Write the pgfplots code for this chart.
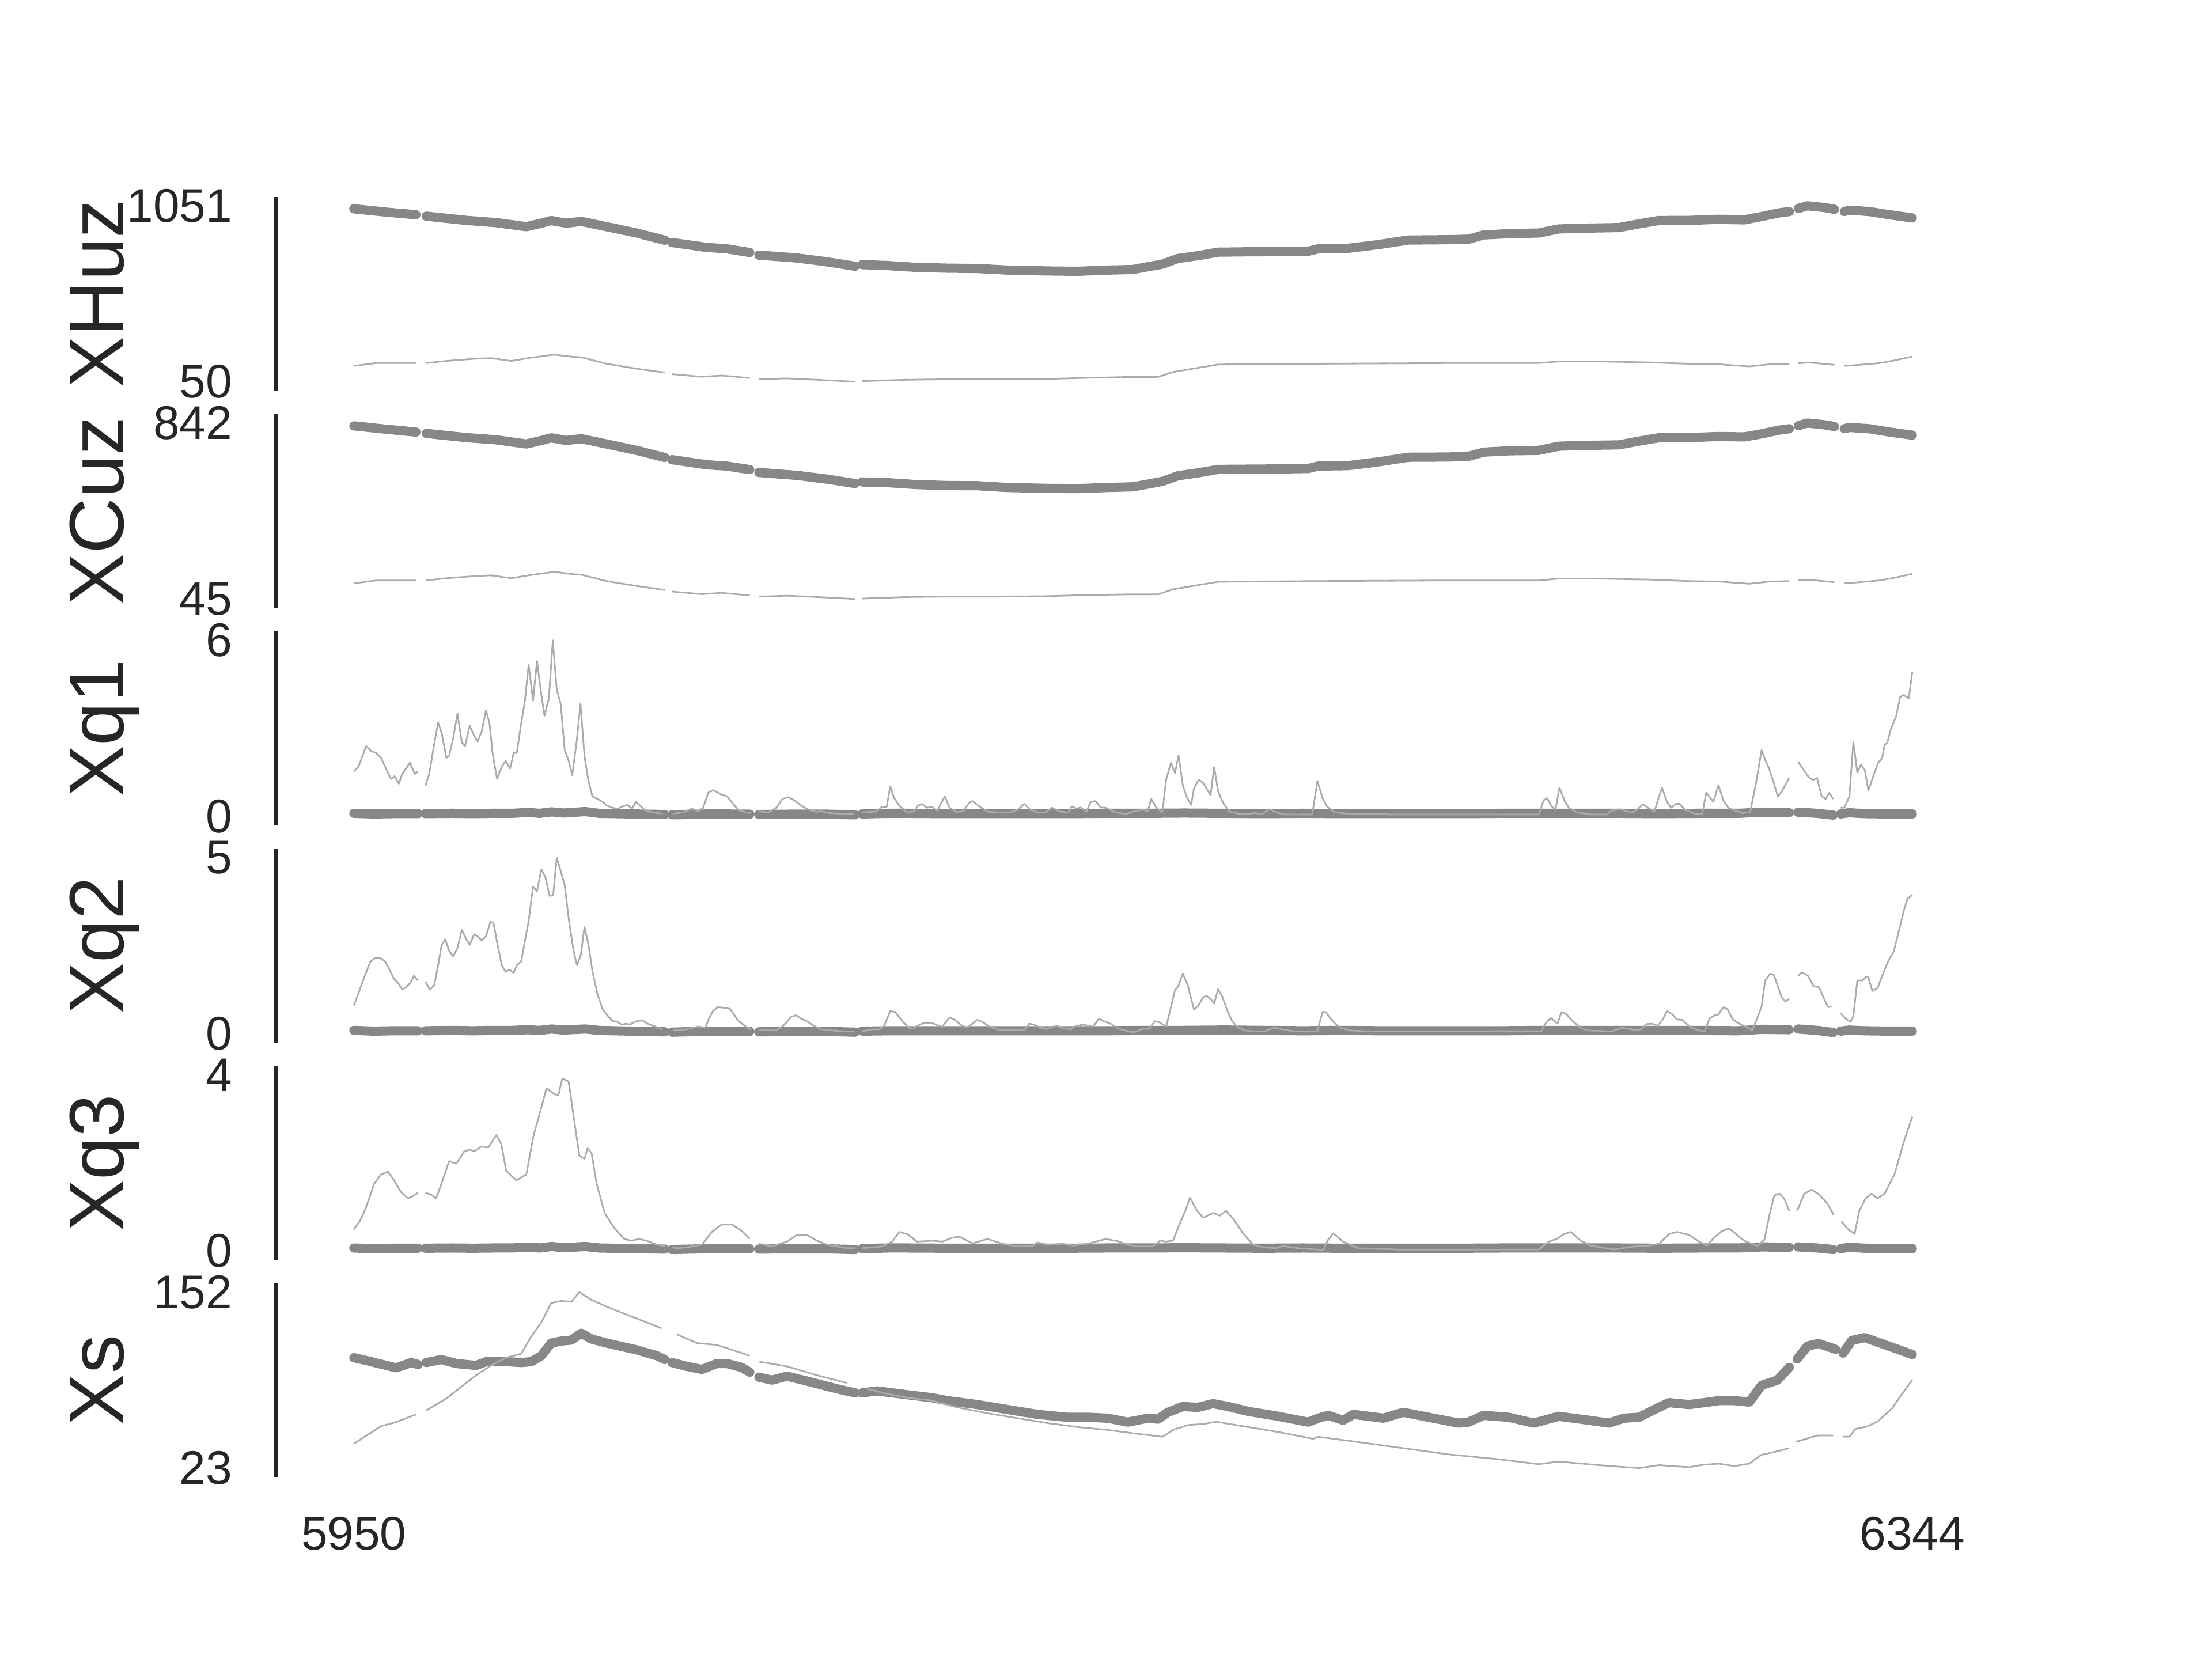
\documentclass[border=0pt]{standalone}
\usepackage{fontspec}
\setmainfont{Liberation Sans}
\usepackage{pgfplots}
\pgfplotsset{compat=1.18}
\definecolor{thickc}{HTML}{878787}
\definecolor{thinc}{HTML}{ABABAB}
\definecolor{txt}{HTML}{262626}
\pgfplotsset{
 panel/.style={
  scale only axis, width=297.6pt, height=33.6pt,
  xmin=5930.3, xmax=6363.7,
  axis y line*=left, axis x line*=bottom,
  x axis line style={draw=none},
  y axis line style={draw=txt, line width=0.8pt, line cap=butt},
  major tick length=0pt,
  xtick=\empty,
  yticklabel style={anchor=east, inner sep=0pt, xshift=-7.4pt, font=\fontsize{8.2}{9}\selectfont, text=txt},
  xticklabel style={anchor=center, inner sep=0pt, yshift=-9.8pt, font=\fontsize{8.2}{9}\selectfont, text=txt},
  unbounded coords=jump,
  clip=false,
  anchor=south west,
 },
 thickline/.style={draw=thickc, line width=1.6pt, line cap=round, line join=round, mark=none},
 thinline/.style={draw=thinc, line width=0.28pt, line join=round, mark=none},
}
\begin{document}
\begin{tikzpicture}
\useasboundingbox (0,0) rectangle (384pt,288pt);

% ---------------- XHuz
\begin{axis}[panel, at={(47.9pt,220.2pt)}, ymin=-0.05, ymax=1101.05,
  ytick={50,1051}, yticklabels={\mbox{50},\mbox{1051}}]
\addplot[thickline] coordinates {(5950.0,1034)(5958.1,1015)(5965.7,1000)(5967.2,nan)(5968.3,992)(5978.4,968)(5986.0,955)(5993.6,932)(5997.4,952)(5999.9,967)(6003.7,952)(6007.5,962)(6013.9,932)(6021.5,896)(6028.6,855)(6029.5,nan)(6030.4,842)(6039.2,814)(6044.3,806)(6050.1,785)(6051.2,nan)(6052.4,770)(6062.0,754)(6069.6,732)(6076.7,707)(6077.5,nan)(6078.5,716)(6084.8,711)(6092.4,700)(6100.0,696)(6107.6,694)(6115.2,685)(6125.4,680)(6133.0,678)(6140.6,685)(6146.9,688)(6150.7,704)(6154.5,719)(6158.3,751)(6163.4,767)(6168.5,787)(6176.1,789)(6183.7,790)(6191.3,792)(6193.8,806)(6201.4,809)(6209.0,830)(6216.6,856)(6226.7,858)(6231.8,861)(6235.6,885)(6241.9,892)(6249.5,896)(6254.6,919)(6262.2,924)(6269.8,927)(6274.9,948)(6279.9,967)(6287.6,968)(6295.2,974)(6301.5,971)(6305.3,987)(6310.4,1011)(6312.9,1018)(6314.0,nan)(6315.2,1036)(6317.5,1051)(6321.8,1041)(6324.3,1031)(6325.5,nan)(6326.8,1018)(6328.1,1026)(6333.2,1018)(6338.2,1000)(6344.0,982)};
\addplot[thinline] coordinates {(5950.0,140)(5955.6,156)(5965.7,156)(5967.2,nan)(5968.3,156)(5973.3,168)(5980.9,181)(5984.7,184)(5989.8,168)(5994.9,187)(6000.7,204)(6005.0,192)(6007.5,189)(6013.9,152)(6021.5,124)(6028.6,102)(6029.5,nan)(6030.4,93)(6038.0,78)(6043.0,85)(6050.1,71)(6051.2,nan)(6052.4,64)(6059.5,69)(6067.1,61)(6076.7,50)(6077.5,nan)(6078.5,53)(6084.8,58)(6089.9,61)(6100.0,64)(6112.7,64)(6125.4,66)(6135.5,72)(6145.7,77)(6153.3,77)(6157.1,105)(6162.1,124)(6168.5,148)(6191.3,152)(6226.7,156)(6249.5,156)(6254.6,165)(6264.7,165)(6277.4,160)(6287.6,152)(6295.2,149)(6302.8,137)(6307.8,149)(6312.9,152)(6314.0,nan)(6315.2,155)(6318.0,159)(6324.3,146)(6325.5,nan)(6326.8,140)(6330.6,146)(6335.7,156)(6339.5,171)(6344.0,193)};
\end{axis}

% ---------------- XCuz
\begin{axis}[panel, at={(47.9pt,182.48pt)}, ymin=5.15, ymax=881.85,
  ytick={45,842}, yticklabels={\mbox{45},\mbox{842}}]
\addplot[thickline] coordinates {(5950.0,829)(5958.1,814)(5965.7,801)(5967.2,nan)(5968.3,795)(5978.4,776)(5986.0,766)(5993.6,747)(5997.4,763)(5999.9,775)(6003.7,763)(6007.5,771)(6013.9,747)(6021.5,718)(6028.6,686)(6029.5,nan)(6030.4,676)(6039.2,653)(6044.3,647)(6050.1,631)(6051.2,nan)(6052.4,618)(6062.0,605)(6069.6,588)(6076.7,568)(6077.5,nan)(6078.5,575)(6084.8,572)(6092.4,563)(6100.0,559)(6107.6,558)(6115.2,550)(6125.4,546)(6133.0,545)(6140.6,550)(6146.9,553)(6150.7,565)(6154.5,578)(6158.3,603)(6163.4,616)(6168.5,632)(6176.1,633)(6183.7,634)(6191.3,636)(6193.8,647)(6201.4,649)(6209.0,666)(6216.6,687)(6226.7,688)(6231.8,691)(6235.6,710)(6241.9,716)(6249.5,718)(6254.6,737)(6262.2,741)(6269.8,743)(6274.9,760)(6279.9,775)(6287.6,776)(6295.2,781)(6301.5,779)(6305.3,791)(6310.4,810)(6312.9,816)(6314.0,nan)(6315.2,830)(6317.5,842)(6321.8,834)(6324.3,826)(6325.5,nan)(6326.8,816)(6328.1,822)(6333.2,816)(6338.2,801)(6344.0,787)};
\addplot[thinline] coordinates {(5950.0,116)(5955.6,129)(5965.7,129)(5967.2,nan)(5968.3,129)(5973.3,139)(5980.9,149)(5984.7,152)(5989.8,139)(5994.9,154)(6000.7,168)(6005.0,158)(6007.5,155)(6013.9,126)(6021.5,104)(6028.6,86)(6029.5,nan)(6030.4,79)(6038.0,67)(6043.0,73)(6050.1,61)(6051.2,nan)(6052.4,56)(6059.5,60)(6067.1,54)(6076.7,45)(6077.5,nan)(6078.5,47)(6084.8,51)(6089.9,54)(6100.0,56)(6112.7,56)(6125.4,58)(6135.5,63)(6145.7,66)(6153.3,66)(6157.1,89)(6162.1,104)(6168.5,123)(6191.3,126)(6226.7,129)(6249.5,129)(6254.6,137)(6264.7,137)(6277.4,133)(6287.6,126)(6295.2,124)(6302.8,114)(6307.8,124)(6312.9,126)(6314.0,nan)(6315.2,129)(6318.0,132)(6324.3,121)(6325.5,nan)(6326.8,116)(6330.6,121)(6335.7,129)(6339.5,141)(6344.0,159)};
\end{axis}

% ---------------- Xq1
\begin{axis}[panel, at={(47.9pt,144.76pt)}, ymin=-0.3, ymax=6.3,
  ytick={0,6}, yticklabels={\mbox{0},\mbox{6}}]
\addplot[thickline] coordinates {(5950,0.10)(5955,0.08)(5960,0.09)(5966.2,0.09)(5967.2,nan)(5968.1,0.09)(5975,0.10)(5980,0.09)(5985,0.10)(5990,0.10)(5994,0.13)(5997,0.10)(6000,0.15)(6003,0.11)(6008.5,0.16)(6012,0.10)(6020,0.08)(6028.6,0.06)(6029.5,nan)(6030.4,0.05)(6040,0.08)(6050.1,0.07)(6051.2,nan)(6052.4,0.06)(6060,0.07)(6070,0.07)(6076.7,0.05)(6077.5,nan)(6078.5,0.08)(6085,0.10)(6090,0.10)(6100,0.09)(6110,0.09)(6120,0.09)(6130,0.09)(6140,0.10)(6150,0.10)(6160,0.11)(6170,0.10)(6180,0.09)(6190,0.10)(6200,0.09)(6210,0.09)(6220,0.09)(6230,0.09)(6240,0.10)(6250,0.10)(6260,0.10)(6270,0.10)(6280,0.09)(6290,0.10)(6300,0.10)(6306,0.14)(6312.9,0.12)(6314.0,nan)(6315.1,0.14)(6320,0.10)(6324,0.04)(6325.2,nan)(6325.9,0.08)(6328,0.12)(6332,0.09)(6338,0.08)(6344,0.08)};
\addplot[thinline] coordinates {(5950.0,1.53)(5951.2,1.70)(5953.1,2.39)(5954.4,2.22)(5955.6,2.16)(5956.9,1.99)(5958.2,1.60)(5959.4,1.27)(5960.3,1.37)(5961.4,1.11)(5962.2,1.44)(5964.2,1.83)(5965.4,1.44)(5966.2,1.53)(5967.2,nan)(5968.1,1.04)(5969.1,1.47)(5970.3,2.45)(5971.3,3.20)(5972.2,2.84)(5973.4,1.99)(5974.1,2.06)(5975.1,2.65)(5976.2,3.50)(5977.3,2.52)(5978.1,2.39)(5979.3,3.09)(5980.4,2.75)(5981.3,2.55)(5982.3,2.88)(5983.4,3.62)(5984.3,3.17)(5985.1,2.12)(5986.2,1.27)(5987.4,1.70)(5988.4,1.89)(5989.5,1.63)(5990.4,2.16)(5991.2,2.16)(5992.3,3.17)(5993.2,3.89)(5994.2,5.17)(5995.3,3.94)(5996.3,5.30)(5997.2,4.35)(5998.2,3.43)(5999.3,4.02)(6000.3,6.00)(6001.3,4.32)(6002.3,3.83)(6003.3,2.26)(6004.4,1.86)(6005.2,1.40)(6006.3,2.52)(6007.3,3.84)(6008.3,2.06)(6009.3,1.21)(6010.3,0.68)(6011.6,0.59)(6012.9,0.49)(6014.1,0.36)(6015.4,0.29)(6016.7,0.26)(6017.7,0.32)(6019.2,0.39)(6020.3,0.26)(6021.3,0.49)(6022.4,0.36)(6023.7,0.19)(6025.6,0.13)(6028.1,0.09)(6029.4,nan)(6030.7,0.09)(6033.2,0.13)(6035.5,0.26)(6037.0,0.16)(6038.3,0.29)(6039.6,0.81)(6040.9,0.89)(6042.8,0.75)(6044.4,0.68)(6045.7,0.45)(6047.2,0.22)(6049.1,0.13)(6050.4,0.11)(6051.2,nan)(6052.3,0.17)(6054.8,0.13)(6056.8,0.29)(6058.4,0.60)(6059.9,0.65)(6061.6,0.52)(6063.1,0.36)(6065.0,0.22)(6066.9,0.15)(6068.2,0.17)(6070.1,0.11)(6072.7,0.09)(6076.5,0.08)(6077.5,nan)(6078.4,0.13)(6082.2,0.16)(6083.5,0.32)(6084.7,0.32)(6085.6,1.02)(6086.6,0.62)(6087.9,0.36)(6089.8,0.13)(6091.5,0.16)(6092.6,0.36)(6093.6,0.42)(6094.9,0.29)(6096.2,0.32)(6097.5,0.19)(6099.4,0.68)(6100.6,0.29)(6102.5,0.13)(6104.2,0.19)(6105.5,0.45)(6106.4,0.52)(6108.3,0.32)(6110.2,0.16)(6112.7,0.13)(6115.9,0.13)(6117.8,0.22)(6119.5,0.42)(6121.0,0.22)(6122.9,0.13)(6124.8,0.13)(6126.5,0.29)(6128.6,0.16)(6130.7,0.13)(6131.5,0.34)(6132.7,0.26)(6133.7,0.30)(6135.2,0.16)(6136.3,0.49)(6137.5,0.52)(6138.8,0.30)(6140.1,0.29)(6142.6,0.13)(6145.2,0.08)(6147.8,0.19)(6149.7,0.22)(6150.7,0.16)(6151.6,0.59)(6152.9,0.29)(6154.4,0.13)(6155.4,1.27)(6156.6,1.83)(6157.6,1.47)(6158.5,2.08)(6159.6,1.04)(6160.7,0.62)(6161.7,0.39)(6162.4,0.95)(6163.6,1.25)(6164.7,1.14)(6166.6,0.72)(6167.5,1.68)(6168.5,0.85)(6169.8,0.45)(6171.3,0.16)(6173.9,0.08)(6176.4,0.07)(6177.7,0.11)(6179.6,0.08)(6181.5,0.24)(6183.2,0.13)(6185.3,0.06)(6192.3,0.06)(6193.6,1.21)(6194.9,0.62)(6196.1,0.32)(6198.1,0.13)(6201.9,0.08)(6207.0,0.09)(6212.0,0.06)(6247.7,0.06)(6249.6,0.06)(6250.8,0.55)(6251.7,0.62)(6252.7,0.36)(6253.8,0.22)(6254.8,0.98)(6256.1,0.52)(6257.2,0.29)(6259.1,0.13)(6262.9,0.06)(6266.7,0.06)(6268.0,0.19)(6269.9,0.24)(6271.2,0.19)(6273.1,0.13)(6274.4,0.22)(6275.9,0.41)(6277.2,0.29)(6278.8,0.16)(6280.7,0.98)(6282.0,0.49)(6283.0,0.29)(6284.3,0.42)(6285.2,0.43)(6286.5,0.22)(6289.0,0.09)(6290.9,0.07)(6291.9,0.81)(6293.7,0.49)(6295.0,1.06)(6296.2,0.55)(6297.5,0.29)(6299.2,0.19)(6301.1,0.11)(6303.0,0.13)(6304.6,1.21)(6305.9,2.26)(6306.8,1.93)(6307.8,1.63)(6309.1,1.08)(6310.0,0.68)(6311.0,0.85)(6312.9,1.31)(6314.0,nan)(6315.1,1.86)(6316.6,1.57)(6317.9,1.32)(6318.9,1.24)(6319.9,1.31)(6321.1,0.68)(6322.1,0.59)(6323.0,0.80)(6324.0,0.59)(6325.2,nan)(6325.9,0.29)(6326.8,0.29)(6328.1,0.67)(6329.1,2.54)(6330.1,1.49)(6331.0,1.76)(6332.0,1.57)(6332.9,0.88)(6334.2,1.40)(6335.4,1.83)(6336.4,1.99)(6337.0,2.44)(6337.7,2.52)(6338.6,2.98)(6339.9,3.40)(6340.9,4.06)(6341.8,4.14)(6343.1,4.02)(6344.0,4.91)};
\end{axis}

% ---------------- Xq2
\begin{axis}[panel, at={(47.9pt,107.04pt)}, ymin=-0.25, ymax=5.25,
  ytick={0,5}, yticklabels={\mbox{0},\mbox{5}}]
\addplot[thickline] coordinates {(5950,0.09)(5955,0.07)(5960,0.08)(5966.2,0.08)(5967.2,nan)(5968.1,0.08)(5975,0.09)(5980,0.08)(5985,0.09)(5990,0.09)(5994,0.11)(5997,0.09)(6000,0.13)(6003,0.10)(6008.5,0.13)(6012,0.09)(6020,0.07)(6028.6,0.05)(6029.5,nan)(6030.4,0.04)(6040,0.07)(6050.1,0.06)(6051.2,nan)(6052.4,0.05)(6060,0.06)(6070,0.06)(6076.7,0.04)(6077.5,nan)(6078.5,0.07)(6085,0.08)(6090,0.08)(6100,0.08)(6110,0.08)(6120,0.08)(6130,0.08)(6140,0.08)(6150,0.09)(6160,0.09)(6170,0.10)(6180,0.09)(6190,0.08)(6200,0.09)(6210,0.08)(6220,0.08)(6230,0.08)(6240,0.08)(6250,0.09)(6260,0.09)(6270,0.09)(6280,0.09)(6290,0.09)(6300,0.08)(6306,0.12)(6312.9,0.11)(6314.0,nan)(6315.1,0.13)(6320,0.09)(6324,0.03)(6325.2,nan)(6325.9,0.07)(6328,0.10)(6332,0.08)(6338,0.07)(6344,0.07)};
\addplot[thinline] coordinates {(5950.0,0.80)(5951.2,1.15)(5952.5,1.56)(5954.1,2.03)(5955.4,2.15)(5956.6,2.15)(5957.9,2.05)(5959.2,1.78)(5960.1,1.56)(5961.1,1.45)(5962.2,1.26)(5963.3,1.32)(5964.3,1.45)(5965.2,1.64)(5966.2,1.51)(5967.2,nan)(5968.1,1.48)(5969.2,1.24)(5970.3,1.37)(5971.3,1.94)(5972.2,2.52)(5973.1,2.68)(5974.1,2.35)(5975.1,2.19)(5976.2,2.43)(5977.3,2.95)(5978.3,2.71)(5979.3,2.52)(5980.4,2.82)(5981.3,2.76)(5982.3,2.65)(5983.4,2.76)(5984.5,3.17)(5985.3,3.15)(5986.2,2.60)(5987.4,1.94)(5988.4,1.75)(5989.3,1.82)(5990.4,1.73)(5991.2,1.94)(5992.3,2.05)(5993.2,2.60)(5994.2,3.20)(5995.3,4.18)(5996.3,4.04)(5997.4,4.67)(5998.4,4.45)(5999.5,3.91)(6000.4,3.94)(6001.3,5.00)(6002.3,4.62)(6003.3,4.21)(6004.4,3.20)(6005.5,2.38)(6006.4,1.94)(6007.4,2.24)(6008.3,3.03)(6009.3,2.54)(6010.3,1.78)(6011.6,1.12)(6012.9,0.69)(6014.1,0.52)(6015.4,0.36)(6016.7,0.33)(6017.7,0.25)(6018.7,0.28)(6019.9,0.26)(6020.9,0.33)(6021.8,0.36)(6023.0,0.37)(6024.3,0.28)(6026.2,0.20)(6027.9,0.12)(6029.4,nan)(6030.7,0.09)(6033.2,0.10)(6035.8,0.17)(6037.0,0.20)(6038.9,0.17)(6039.8,0.44)(6040.9,0.66)(6042.1,0.75)(6044.0,0.73)(6045.1,0.70)(6045.9,0.58)(6047.2,0.36)(6049.1,0.20)(6050.4,0.12)(6051.2,nan)(6052.3,0.12)(6054.8,0.09)(6056.8,0.09)(6058.4,0.21)(6059.3,0.31)(6060.6,0.48)(6061.8,0.52)(6063.1,0.42)(6064.4,0.36)(6066.3,0.22)(6068.2,0.12)(6070.7,0.09)(6073.9,0.06)(6076.5,0.06)(6077.5,nan)(6078.4,0.06)(6080.9,0.12)(6082.8,0.12)(6084.1,0.22)(6085.6,0.64)(6086.9,0.61)(6088.6,0.36)(6090.2,0.17)(6091.5,0.14)(6092.4,0.22)(6094.3,0.31)(6096.2,0.30)(6097.5,0.24)(6098.7,0.19)(6100.6,0.46)(6101.9,0.39)(6103.8,0.22)(6105.1,0.17)(6106.4,0.28)(6107.6,0.39)(6108.9,0.33)(6110.8,0.19)(6113.4,0.10)(6115.9,0.10)(6118.4,0.09)(6119.7,0.12)(6120.7,0.28)(6121.8,0.26)(6123.5,0.17)(6125.4,0.13)(6126.7,0.20)(6128.0,0.21)(6129.3,0.15)(6131.2,0.12)(6132.4,0.21)(6133.7,0.24)(6134.7,0.25)(6135.6,0.22)(6136.9,0.20)(6138.4,0.42)(6139.4,0.36)(6141.3,0.28)(6143.3,0.14)(6145.9,0.06)(6147.2,0.04)(6148.4,0.09)(6149.7,0.14)(6151.0,0.13)(6152.5,0.35)(6153.5,0.33)(6155.4,0.20)(6157.6,1.24)(6158.4,1.34)(6159.6,1.71)(6160.9,1.34)(6162.4,0.68)(6163.5,0.79)(6164.7,1.03)(6165.6,1.07)(6166.6,0.99)(6167.5,0.85)(6168.5,1.26)(6169.6,1.04)(6170.7,0.69)(6172.0,0.36)(6173.2,0.20)(6175.2,0.09)(6177.7,0.06)(6180.2,0.06)(6182.8,0.17)(6184.7,0.12)(6187.9,0.06)(6193.6,0.06)(6194.9,0.62)(6195.8,0.61)(6196.8,0.44)(6198.1,0.28)(6199.3,0.17)(6201.9,0.09)(6207.0,0.06)(6250.2,0.07)(6251.5,0.33)(6252.7,0.44)(6254.3,0.28)(6255.3,0.61)(6256.6,0.55)(6257.8,0.39)(6259.7,0.20)(6261.7,0.09)(6268.0,0.06)(6270.6,0.17)(6272.5,0.13)(6275.0,0.09)(6276.9,0.27)(6278.2,0.28)(6279.7,0.22)(6281.0,0.42)(6282.0,0.64)(6283.3,0.55)(6284.5,0.40)(6285.8,0.39)(6287.7,0.20)(6289.6,0.10)(6291.5,0.06)(6292.8,0.44)(6294.1,0.52)(6295.0,0.55)(6296.2,0.75)(6297.3,0.69)(6298.5,0.42)(6299.8,0.31)(6301.7,0.20)(6303.6,0.10)(6304.9,0.47)(6305.9,0.77)(6306.8,1.51)(6308.1,1.70)(6309.0,1.67)(6310.0,1.34)(6311.0,1.02)(6311.9,0.91)(6312.9,0.99)(6314.0,nan)(6315.1,1.64)(6316.1,1.74)(6317.6,1.64)(6319.1,1.34)(6320.4,1.32)(6321.7,0.99)(6322.7,0.75)(6323.7,0.77)(6325.0,nan)(6325.9,0.58)(6327.2,0.42)(6328.4,0.33)(6329.1,0.50)(6330.1,1.51)(6331.4,1.51)(6332.3,1.62)(6332.9,1.59)(6333.9,1.21)(6335.2,1.29)(6336.7,1.73)(6338.0,2.08)(6339.3,2.33)(6340.5,2.87)(6342.0,3.55)(6342.8,3.83)(6344.0,3.94)};
\end{axis}

% ---------------- Xq3
\begin{axis}[panel, at={(47.9pt,69.32pt)}, ymin=-0.2, ymax=4.2,
  ytick={0,4}, yticklabels={\mbox{0},\mbox{4}}]
\addplot[thickline] coordinates {(5950,0.065)(5955,0.05)(5960,0.06)(5966.2,0.06)(5967.2,nan)(5968.1,0.06)(5975,0.065)(5980,0.06)(5985,0.065)(5990,0.065)(5994,0.085)(5997,0.065)(6000,0.10)(6003,0.07)(6008.5,0.10)(6012,0.065)(6020,0.05)(6028.6,0.04)(6029.5,nan)(6030.4,0.03)(6040,0.05)(6050.1,0.045)(6051.2,nan)(6052.4,0.04)(6060,0.045)(6070,0.045)(6076.7,0.03)(6077.5,nan)(6078.5,0.05)(6085,0.065)(6090,0.065)(6100,0.06)(6110,0.06)(6120,0.06)(6130,0.06)(6140,0.065)(6150,0.065)(6160,0.07)(6170,0.065)(6180,0.06)(6190,0.065)(6200,0.06)(6210,0.06)(6220,0.06)(6230,0.06)(6240,0.065)(6250,0.065)(6260,0.065)(6270,0.065)(6280,0.06)(6290,0.065)(6300,0.065)(6306,0.09)(6312.9,0.08)(6314.0,nan)(6315.1,0.09)(6320,0.065)(6324,0.03)(6325.2,nan)(6325.9,0.05)(6328,0.08)(6332,0.06)(6338,0.05)(6344,0.05)};
\addplot[thinline] coordinates {(5950.0,0.49)(5951.5,0.67)(5953.1,0.99)(5955.1,1.52)(5956.9,1.74)(5958.6,1.80)(5960.2,1.60)(5961.9,1.34)(5963.7,1.19)(5965.2,1.26)(5966.2,1.32)(5967.2,nan)(5968.1,1.32)(5969.5,1.28)(5970.8,1.19)(5972.1,1.52)(5974.1,2.04)(5975.9,1.98)(5977.9,2.26)(5979.4,2.30)(5980.4,2.26)(5982.2,2.37)(5984.0,2.35)(5986.0,2.63)(5987.3,2.43)(5988.5,1.82)(5991.1,1.60)(5993.6,1.74)(5995.4,2.61)(5997.4,3.26)(5998.7,3.70)(6000.5,3.57)(6001.7,3.53)(6002.7,3.92)(6004.3,3.85)(6005.8,2.91)(6007.0,2.17)(6008.3,2.09)(6009.1,2.33)(6010.1,2.22)(6011.4,1.52)(6013.4,0.86)(6015.9,0.51)(6018.4,0.27)(6020.2,0.23)(6022.0,0.27)(6024.0,0.23)(6026.6,0.14)(6028.6,0.11)(6029.5,nan)(6030.4,0.08)(6031.6,0.06)(6034.2,0.08)(6038.0,0.14)(6040.5,0.43)(6043.0,0.60)(6045.6,0.60)(6048.1,0.45)(6050.1,0.27)(6051.2,nan)(6052.4,0.16)(6055.7,0.10)(6059.5,0.21)(6062.0,0.36)(6064.6,0.36)(6067.1,0.23)(6069.6,0.14)(6074.7,0.06)(6076.7,0.06)(6077.5,nan)(6078.5,0.06)(6079.8,0.07)(6083.6,0.10)(6086.1,0.21)(6087.9,0.43)(6089.9,0.38)(6092.4,0.21)(6096.2,0.23)(6098.8,0.21)(6101.3,0.30)(6103.1,0.32)(6106.4,0.17)(6110.2,0.27)(6114.0,0.16)(6117.8,0.10)(6121.6,0.11)(6122.8,0.19)(6125.4,0.14)(6129.2,0.16)(6131.7,0.12)(6135.5,0.16)(6140.1,0.27)(6143.1,0.22)(6145.7,0.14)(6148.2,0.10)(6152.0,0.10)(6153.8,0.23)(6155.3,0.21)(6157.1,0.23)(6158.3,0.51)(6160.3,0.93)(6161.4,1.21)(6162.9,0.95)(6164.7,0.75)(6167.2,0.86)(6169.0,0.80)(6170.5,0.91)(6172.3,0.73)(6174.8,0.40)(6177.3,0.14)(6179.9,0.08)(6183.2,0.06)(6184.9,0.11)(6188.7,0.06)(6195.1,0.02)(6196.3,0.25)(6197.6,0.40)(6200.1,0.21)(6203.9,0.06)(6214.1,0.03)(6249.5,0.03)(6252.1,0.21)(6254.1,0.27)(6255.9,0.38)(6257.7,0.43)(6260.2,0.23)(6262.7,0.12)(6268.5,0.03)(6273.6,0.10)(6277.4,0.12)(6280.0,0.16)(6282.5,0.38)(6284.5,0.43)(6287.6,0.36)(6290.1,0.21)(6292.1,0.12)(6293.9,0.30)(6295.9,0.45)(6297.7,0.51)(6299.7,0.36)(6301.5,0.23)(6304.8,0.11)(6306.6,0.25)(6307.8,0.78)(6309.1,1.26)(6310.4,1.30)(6311.6,1.19)(6312.9,0.91)(6314.0,nan)(6314.9,0.91)(6316.7,1.30)(6318.5,1.39)(6320.5,1.28)(6322.5,1.08)(6324.1,0.82)(6325.2,nan)(6326.1,0.67)(6327.6,0.51)(6329.4,0.38)(6330.6,0.91)(6332.2,1.19)(6333.7,1.30)(6335.2,1.19)(6337.0,1.30)(6339.5,1.74)(6342.0,2.52)(6344.0,3.05)};
\end{axis}

% ---------------- Xs
\begin{axis}[panel, at={(47.9pt,31.6pt)}, ymin=16.55, ymax=158.45,
  ytick={23,152}, yticklabels={\mbox{23},\mbox{152}},
  xtick={5950,6344}, xticklabels={\mbox{5950},\mbox{6344}}]
\addplot[thickline] coordinates {(5950.0,104.0)(5954.3,101.1)(5960.7,96.5)(5964.5,100.4)(5966.2,99.0)(5967.3,nan)(5968.3,100.4)(5972.1,102.6)(5975.9,99.7)(5980.9,98.3)(5983.5,101.1)(5988.5,101.1)(5992.3,100.4)(5994.9,101.1)(5997.4,105.4)(5999.9,114.7)(6002.5,116.2)(6005.0,116.9)(6007.5,121.9)(6010.1,117.6)(6013.9,114.7)(6021.5,109.7)(6026.6,105.4)(6028.6,102.6)(6029.5,nan)(6030.4,100.4)(6034.2,97.6)(6038.0,95.4)(6041.8,99.7)(6044.3,99.7)(6048.1,96.8)(6050.1,93.3)(6051.2,nan)(6052.4,89.7)(6055.7,87.5)(6059.5,90.4)(6064.6,86.8)(6072.2,81.1)(6076.7,78.2)(6077.5,nan)(6078.5,78.2)(6082.3,79.6)(6086.1,78.2)(6089.9,76.8)(6096.2,74.6)(6100.0,72.5)(6107.6,69.6)(6115.2,66.0)(6122.8,62.4)(6130.4,60.3)(6135.5,60.3)(6140.6,59.6)(6145.7,56.7)(6150.7,59.6)(6153.3,58.9)(6155.8,63.9)(6159.6,68.2)(6163.4,67.5)(6167.2,70.3)(6171.0,68.2)(6176.1,64.6)(6183.7,61.0)(6191.3,56.7)(6193.8,59.6)(6196.3,61.7)(6200.1,58.1)(6202.7,62.4)(6206.5,61.0)(6210.3,59.6)(6215.3,63.9)(6221.7,60.3)(6229.3,56.0)(6231.8,56.7)(6235.6,61.7)(6241.9,60.3)(6248.3,56.0)(6254.6,61.0)(6262.2,58.1)(6267.3,56.0)(6271.1,59.6)(6274.9,60.3)(6279.9,67.5)(6282.5,71.0)(6287.6,69.6)(6291.4,71.0)(6295.2,72.5)(6299.0,72.5)(6302.8,71.4)(6305.9,83.7)(6309.9,87.5)(6312.9,96.9)(6314.0,nan)(6314.9,103.0)(6317.5,112.5)(6320.3,114.4)(6324.6,110.1)(6325.5,nan)(6326.5,107.3)(6328.7,116.6)(6332.0,118.7)(6338.0,112.5)(6344.0,106.3)};
\addplot[thinline] coordinates {(5950.0,40.9)(5953.1,46.7)(5956.9,53.8)(5960.7,56.7)(5965.7,62.4)(5967.2,nan)(5968.3,65.3)(5973.3,73.9)(5977.1,82.5)(5980.9,91.1)(5984.7,98.3)(5988.5,104.0)(5992.3,106.9)(5994.9,119.8)(5997.4,129.8)(5999.9,144.1)(6002.5,145.6)(6005.0,144.9)(6007.0,152.0)(6010.1,146.3)(6015.2,139.8)(6021.5,132.7)(6027.8,125.5)(6029.5,nan)(6031.6,121.2)(6036.7,114.7)(6041.8,113.3)(6045.6,109.7)(6050.1,105.4)(6051.2,nan)(6052.4,101.1)(6059.5,97.6)(6067.1,91.1)(6074.7,85.4)(6077.5,nan)(6079.8,81.1)(6084.8,77.5)(6089.9,74.6)(6096.2,72.5)(6102.6,67.5)(6110.2,63.2)(6117.8,59.6)(6125.4,56.0)(6133.0,53.1)(6140.6,51.0)(6148.2,48.1)(6154.5,46.0)(6157.1,51.0)(6160.9,54.6)(6164.7,55.3)(6168.0,57.0)(6176.1,53.1)(6183.7,49.5)(6192.5,44.5)(6193.8,46.0)(6201.4,43.1)(6214.1,38.1)(6226.7,33.1)(6239.4,29.5)(6249.5,25.9)(6254.6,27.8)(6264.7,25.2)(6274.9,23.0)(6279.9,25.2)(6287.6,23.7)(6291.0,25.4)(6295.0,26.3)(6299.0,24.5)(6302.8,26.3)(6305.9,32.8)(6309.0,34.7)(6312.9,37.6)(6314.0,nan)(6314.6,42.3)(6320.0,46.9)(6324.0,46.9)(6325.2,nan)(6326.4,46.1)(6328.2,46.1)(6329.5,51.6)(6332.6,53.5)(6335.3,57.3)(6338.9,66.8)(6341.6,78.2)(6344.0,87.5)};
\end{axis}

% ---------------- y labels
\begin{scope}[every node/.style={rotate=90, anchor=base, inner sep=0pt, text=txt, font=\fontsize{13.4}{16}\selectfont}]
\node at (21.43pt,237.0pt) {XHuz};
\node at (21.43pt,199.28pt) {XCuz};
\node at (21.43pt,161.56pt) {Xq1};
\node at (21.43pt,123.84pt) {Xq2};
\node at (21.43pt,86.12pt) {Xq3};
\node at (21.43pt,48.4pt) {Xs};
\end{scope}
\end{tikzpicture}
\end{document}
